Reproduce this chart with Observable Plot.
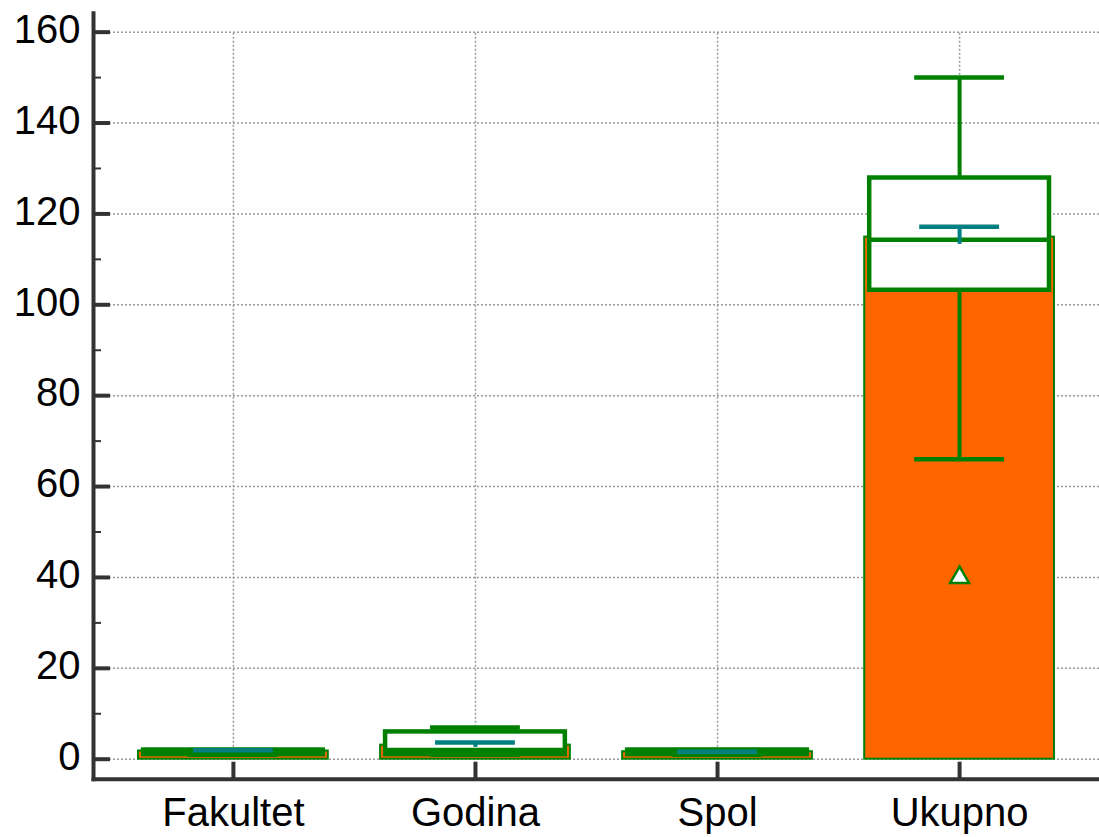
<!DOCTYPE html>
<html>
<head>
<meta charset="utf-8">
<script src="https://cdn.jsdelivr.net/npm/d3@7"></script>
<script src="https://cdn.jsdelivr.net/npm/@observablehq/plot@0.6"></script>
<style>
  body { margin: 0; background: #ffffff; }
  svg { display: block; }
</style>
</head>
<body>
<div id="chart"></div>
<script>
// ---- data ----
const categories = ["Fakultet", "Godina", "Spol", "Ukupno"];
const means      = [1.8, 3.1, 1.65, 114.9];
const q1         = [1, 1, 1, 103.2];
const medians    = [2, 2, 2, 114.3];
const q3         = [2, 6, 2, 127.9];
const whiskerLo  = [1, 1, 1, 66];
const whiskerHi  = [2, 7, 2, 150];
const ciLo       = [1.5, 2.6, 1.3, 113.3];
const ciHi       = [1.98, 3.67, 1.63, 117.2];
const outlierCats   = ["Ukupno"];
const outlierValues = [40];
const yTicks      = [0, 20, 40, 60, 80, 100, 120, 140, 160];
const yMinorTicks = [10, 30, 50, 70, 90, 110, 130, 150];

const rows = categories.map((c, i) => ({
  cat: c, mean: means[i], q1: q1[i], med: medians[i], q3: q3[i],
  lo: whiskerLo[i], hi: whiskerHi[i], ciLo: ciLo[i], ciHi: ciHi[i]
}));
const outliers = outlierCats.map((c, i) => ({cat: c, v: outlierValues[i]}));

const GREEN = "#008000", ORANGE = "#FF6600", TEAL = "#008080", AXIS = "#333333", GRID = "#9a9a9a";

const chart = Plot.plot({
  width: 1099,
  height: 837,
  marginLeft: 93,
  marginRight: 0,
  marginTop: 12.7,
  marginBottom: 58.3,
  style: {fontFamily: "'Liberation Sans', Arial, sans-serif", fontSize: "40px", background: "#ffffff", color: "#000"},
  x: {type: "band", domain: categories, paddingInner: 0.216, paddingOuter: 0.186, round: false, label: null},
  y: {domain: [-4.4, 164.17], label: null},
  marks: [
    // grid
    Plot.gridY(yTicks, {stroke: GRID, strokeOpacity: 1, strokeWidth: 1.5, strokeDasharray: "2,2"}),
    Plot.ruleX(categories, {x: d => d, y1: 0, y2: 160, stroke: GRID, strokeWidth: 1.5, strokeDasharray: "2,2"}),
    // mean bars
    Plot.barY(rows, {x: "cat", y: "mean", fill: ORANGE, stroke: GREEN, strokeWidth: 2}),
    // whiskers
    Plot.ruleX(rows, {x: "cat", y1: "lo", y2: "hi", stroke: GREEN, strokeWidth: 4}),
    // boxes
    Plot.barY(rows, {x: "cat", y1: "q1", y2: "q3", insetLeft: 5, insetRight: 5, fill: "#ffffff", stroke: GREEN, strokeWidth: 4.5}),
    Plot.tickY(rows, {x: "cat", y: "med", insetLeft: 5, insetRight: 5, stroke: GREEN, strokeWidth: 4.5}),
    // whisker caps
    Plot.tickY(rows, {x: "cat", y: "lo", insetLeft: 50, insetRight: 50, stroke: GREEN, strokeWidth: 4.5}),
    Plot.tickY(rows, {x: "cat", y: "hi", insetLeft: 50, insetRight: 50, stroke: GREEN, strokeWidth: 4.5}),
    // teal interval
    Plot.ruleX(rows, {x: "cat", y1: "ciLo", y2: "ciHi", stroke: TEAL, strokeWidth: 4}),
    Plot.tickY(rows, {x: "cat", y: "ciHi", insetLeft: 55, insetRight: 55, stroke: TEAL, strokeWidth: 4.5}),
    // outlier
    Plot.dot(outliers, {x: "cat", y: "v", symbol: "triangle", r: 7, fill: "#ffffff", stroke: GREEN, strokeWidth: 2.5}),
    // axes
    Plot.axisY(yTicks, {tickSize: 0, tickPadding: 13, fontSize: 40, fill: "#000", dy: -2, label: null}),
    Plot.axisY(yTicks, {tickSize: -17, fill: "none", stroke: AXIS, strokeWidth: 4, label: null}),
    Plot.axisY(yMinorTicks, {tickSize: -8, fill: "none", stroke: AXIS, strokeWidth: 2, label: null}),
    Plot.axisX({tickSize: 0, tickPadding: 18, fontSize: 40, fill: "#000", label: null}),
    Plot.axisX({tickSize: -17, fill: "none", stroke: AXIS, strokeWidth: 4, label: null}),
    Plot.frame({anchor: "left", stroke: AXIS, strokeWidth: 4, strokeLinecap: "square"}),
    Plot.frame({anchor: "bottom", stroke: AXIS, strokeWidth: 4, strokeLinecap: "square"})
  ]
});
document.getElementById("chart").appendChild(chart);
</script>
</body>
</html>
